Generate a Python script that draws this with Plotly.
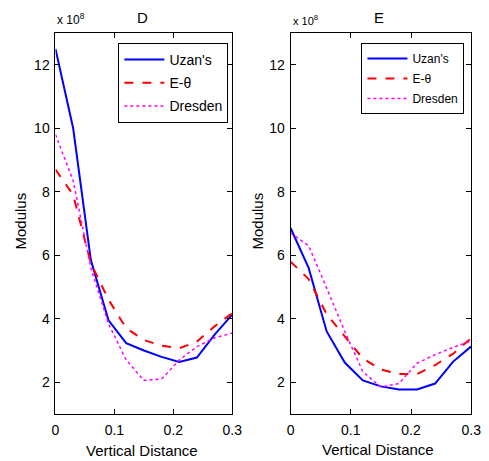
import plotly.graph_objects as go

# x positions (vertical distance)
x_vals = [0, 0.03, 0.06, 0.09, 0.12, 0.15, 0.18, 0.21, 0.24, 0.27, 0.30]

# Panel D (values in units of 1e8)
d_uzan = [12.5, 10.0, 5.85, 3.95, 3.23, 3.0, 2.8, 2.64, 2.78, 3.5, 4.13]
d_etheta = [8.7, 7.9, 5.75, 4.6, 3.7, 3.33, 3.15, 3.07, 3.28, 3.76, 4.18]
d_dresden = [9.8, 8.35, 5.6, 3.84, 2.7, 2.06, 2.1, 2.7, 3.12, 3.4, 3.55]

# Panel E (values in units of 1e8)
e_uzan = [6.86, 5.6, 3.6, 2.62, 2.06, 1.87, 1.77, 1.77, 1.96, 2.65, 3.13]
e_etheta = [5.8, 5.25, 4.14, 3.45, 2.75, 2.4, 2.26, 2.26, 2.54, 2.9, 3.39]
e_dresden = [6.7, 6.3, 4.97, 3.6, 2.33, 1.85, 1.96, 2.6, 2.87, 3.1, 3.3]

series_names = ["Uzan's", "E-θ", "Dresden"]
colors = ["#0000ff", "#ff0000", "#ff00ff"]
dashes = ["solid", "dash", "dot"]
widths = [2, 2, 1.5]

y_ticks = [2, 4, 6, 8, 10, 12]
x_ticks = [0, 0.1, 0.2, 0.3]
x_ticktext = ["0", "0.1", "0.2", "0.3"]

W, H = 489, 461
FONT = "Liberation Sans, Arial, sans-serif"

fig = go.Figure()

for i, (name, ys) in enumerate(zip(series_names, [d_uzan, d_etheta, d_dresden])):
    fig.add_trace(go.Scatter(x=x_vals, y=ys, mode="lines", name=name,
                             line=dict(color=colors[i], dash=dashes[i], width=widths[i]),
                             xaxis="x", yaxis="y", legend="legend",
                             legendgroup="d%d" % i))
for i, (name, ys) in enumerate(zip(series_names, [e_uzan, e_etheta, e_dresden])):
    fig.add_trace(go.Scatter(x=x_vals, y=ys, mode="lines", name=name,
                             line=dict(color=colors[i], dash=dashes[i], width=widths[i]),
                             xaxis="x2", yaxis="y2", legend="legend2",
                             legendgroup="e%d" % i))

def px_x(p):
    return p / W

def px_y(p):
    return 1 - p / H

axis_common = dict(showline=True, linecolor="black", linewidth=1, mirror="ticks",
                   ticks="inside", ticklen=5, tickcolor="black", showgrid=False,
                   zeroline=False, tickfont=dict(family=FONT, size=14, color="black"))

fig.update_layout(
    width=W, height=H, margin=dict(l=0, r=0, t=0, b=0),
    paper_bgcolor="white", plot_bgcolor="white",
    font=dict(family=FONT, color="black"),
    xaxis=dict(domain=[px_x(53), px_x(235)], range=[0, 0.3], tickvals=x_ticks,
               ticktext=x_ticktext, anchor="y", ticklabelstandoff=3, **axis_common),
    yaxis=dict(domain=[px_y(414), px_y(33)], range=[1, 13], tickvals=y_ticks,
               anchor="x", ticklabelstandoff=2, **axis_common),
    xaxis2=dict(domain=[px_x(295), px_x(481)], range=[0, 0.3], tickvals=x_ticks,
                ticktext=x_ticktext, anchor="y2", ticklabelstandoff=3, **axis_common),
    yaxis2=dict(domain=[px_y(414), px_y(33)], range=[1, 13], tickvals=y_ticks,
                anchor="x2", ticklabelstandoff=2, **axis_common),
    legend=dict(x=px_x(231), y=px_y(43), xanchor="right", yanchor="top",
                bordercolor="black", borderwidth=1, bgcolor="white",
                font=dict(family=FONT, size=14, color="black"),
                itemwidth=40, tracegroupgap=2),
    legend2=dict(x=px_x(474), y=px_y(43), xanchor="right", yanchor="top",
                 bordercolor="black", borderwidth=1, bgcolor="white",
                 font=dict(family=FONT, size=12, color="black"),
                 itemwidth=40, tracegroupgap=1),
    showlegend=True,
)

annots = [
    dict(text="D", x=px_x(143), y=px_y(18), size=15),
    dict(text="E", x=px_x(386), y=px_y(18), size=15),
    dict(text="Vertical Distance", x=px_x(142), y=px_y(450), size=15),
    dict(text="Vertical Distance", x=px_x(385), y=px_y(449), size=15),
]
for a in annots:
    fig.add_annotation(text=a["text"], x=a["x"], y=a["y"], xref="paper", yref="paper",
                       showarrow=False, xanchor="center", yanchor="middle",
                       font=dict(family=FONT, size=a["size"], color="black"))

for xc in [17, 261]:
    fig.add_annotation(text="Modulus", x=px_x(xc), y=px_y(221), xref="paper", yref="paper",
                       showarrow=False, textangle=-90, xanchor="center", yanchor="middle",
                       font=dict(family=FONT, size=15, color="black"))

for xl, fs in [(53, 12), (295, 11)]:
    fig.add_annotation(text="x 10<sup>8</sup>", x=px_x(xl), y=px_y(29), xref="paper", yref="paper",
                       showarrow=False, xanchor="left", yanchor="bottom",
                       font=dict(family=FONT, size=fs, color="black"))

fig.write_html("out.html")
